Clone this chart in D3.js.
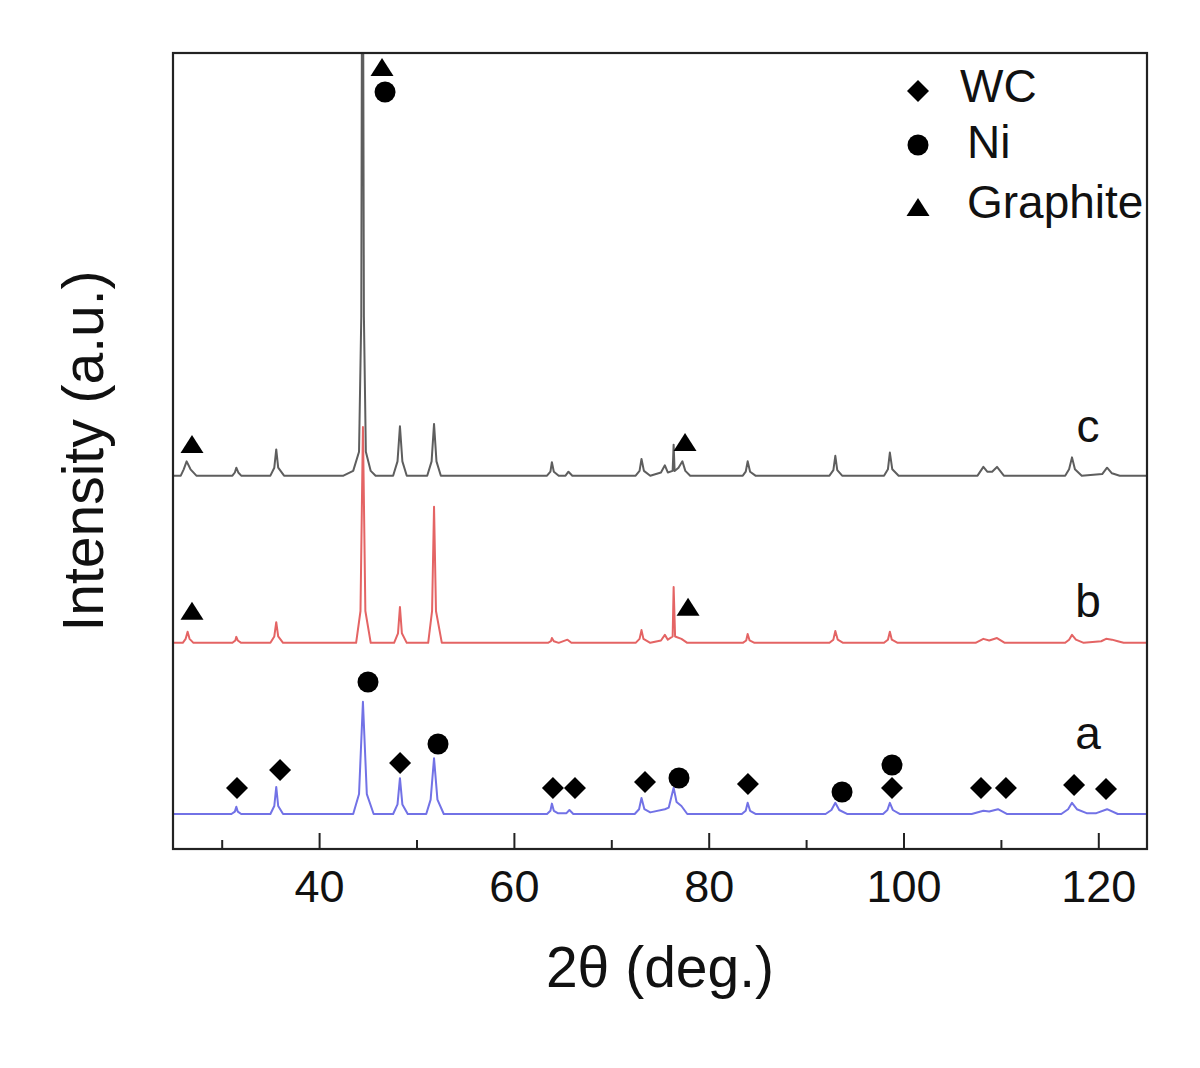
<!DOCTYPE html>
<html>
<head>
<meta charset="utf-8">
<script src="https://cdn.jsdelivr.net/npm/d3@7"></script>
<style>
  html, body { margin: 0; padding: 0; background: #fff; }
  svg { display: block; font-family: "Liberation Sans", Arial, sans-serif; }
</style>
</head>
<body>
<svg id="chart" width="1200" height="1068"></svg>
<script>
// ---------------- DATA ----------------
const xDomain = [25, 125];
const yDomain = [0, 100];
const majorTicks = [40, 60, 80, 100, 120];
const minorTicks = [30, 50, 70, 90, 110];

const seriesNames = ["a", "b", "c"];
const seriesColors = ["#7272e6", "#e46464", "#5e5e5e"];
const seriesOffsets = [4.4, 25.9, 46.9];

// pattern a (blue): [2θ, intensity]
const patternA = [
  [25,0],
  [31.0,0],[31.35,0.3],[31.5,0.9],[31.65,0.3],[32.0,0],
  [35.0,0],[35.4,1.0],[35.6,3.4],[35.8,1.0],[36.3,0],
  [43.5,0],[44.1,2.5],[44.5,14.1],[44.9,2.5],[45.6,0],
  [47.6,0],[48.05,1.2],[48.3,4.5],[48.55,1.2],[49.1,0],
  [51.0,0],[51.45,1.8],[51.8,7.0],[52.15,1.8],[52.8,0],
  [63.4,0],[63.75,0.4],[63.9,1.3],[64.1,0.4],[64.5,0.1],[65.4,0.1],[65.7,0.5],[66.1,0],
  [72.4,0],[72.85,0.6],[73.1,2.0],[73.4,0.6],[74.0,0.2],[75.5,0.6],[75.9,0.8],[76.4,3.3],[76.7,1.5],[77.2,1.0],[77.8,0],
  [83.4,0],[83.8,0.4],[84.0,1.4],[84.25,0.4],[84.8,0],
  [92.0,0],[92.6,0.5],[93.0,1.4],[93.4,0.5],[94.2,0],
  [97.9,0],[98.35,0.5],[98.6,1.4],[98.9,0.5],[99.6,0],
  [107.0,0],[108.2,0.4],[108.8,0.3],[109.7,0.6],[110.6,0],
  [116.2,0],[116.9,0.6],[117.3,1.4],[117.8,0.6],[118.8,0.1],[119.8,0.1],[120.9,0.6],[122.0,0],
  [125,0]
];

// pattern b (red)
const patternB = [
  [25,0],[26.0,0],[26.3,0.5],[26.5,1.4],[26.7,0.5],[27.1,0],
  [31.1,0],[31.4,0.3],[31.5,0.75],[31.65,0.3],[32.0,0],
  [35.0,0],[35.4,0.8],[35.6,2.6],[35.8,0.8],[36.3,0],
  [43.8,0],[44.25,4],[44.5,27.1],[44.75,4],[45.3,0],
  [47.7,0],[48.1,1.2],[48.3,4.5],[48.5,1.2],[49.0,0],
  [51.2,0],[51.6,4],[51.8,17.1],[52.0,4],[52.6,0],
  [63.5,0],[63.8,0.2],[63.9,0.6],[64.1,0.2],[64.6,0],[65.5,0.4],[65.9,0],
  [72.5,0],[72.9,0.5],[73.1,1.6],[73.3,0.5],[74.0,0],[75.1,0.3],[75.5,1.0],[75.8,0.4],[76.3,0.8],[76.4,7.0],[76.55,0.8],[77.2,0.5],[77.8,0],
  [83.5,0],[83.85,0.3],[84.0,1.1],[84.2,0.3],[84.7,0],
  [92.4,0],[92.8,0.4],[93.0,1.5],[93.25,0.4],[93.8,0],
  [98.0,0],[98.4,0.4],[98.6,1.4],[98.8,0.4],[99.4,0],
  [107.4,0],[108.2,0.5],[108.8,0.3],[109.6,0.6],[110.4,0],
  [116.6,0],[117.0,0.4],[117.3,1.0],[117.7,0.4],[118.5,0],[120.3,0.2],[120.8,0.5],[121.4,0.4],[122,0.2],[122.6,0],
  [125,0]
];

// pattern c (gray)
const patternC = [
  [25,0],[25.8,0],[26.1,0.8],[26.4,1.8],[26.8,0.8],[27.4,0],
  [31.1,0],[31.35,0.4],[31.5,1.0],[31.7,0.4],[32.0,0],
  [35.0,0],[35.4,1.0],[35.6,3.3],[35.8,1.0],[36.4,0],
  [42.5,0],[43.5,0.6],[44.1,3],[44.33,20],[44.4,60],[44.52,60],[44.6,20],[44.8,3],[45.3,0.6],[45.8,0],
  [47.6,0],[48.05,1.8],[48.3,6.2],[48.55,1.8],[49.0,0],
  [51.1,0],[51.55,1.8],[51.8,6.5],[52.05,1.8],[52.5,0],
  [63.4,0],[63.75,0.5],[63.9,1.7],[64.1,0.5],[64.6,0],[65.3,0],[65.6,0.5],[66.0,0],
  [72.5,0],[72.9,0.6],[73.1,2.1],[73.35,0.6],[74.0,0],[75.1,0.4],[75.5,1.3],[75.8,0.4],[76.3,0.6],[76.4,3.9],[76.5,0.6],[76.9,1.0],[77.3,1.8],[77.6,0.6],[78.1,0],
  [83.5,0],[83.8,0.5],[84.0,1.8],[84.25,0.5],[84.8,0],
  [92.4,0],[92.8,0.7],[93.0,2.5],[93.2,0.7],[93.7,0],
  [98.0,0],[98.4,0.8],[98.6,2.9],[98.85,0.8],[99.5,0],
  [107.6,0],[108.2,1.1],[108.6,0.5],[109.1,0.5],[109.6,1.1],[110.3,0],
  [116.6,0],[117.0,0.8],[117.3,2.3],[117.6,0.8],[118.3,0],[120.4,0.2],[120.9,1.0],[121.4,0.3],[122.2,0],
  [125,0]
];

// phase markers: [2θ, height, phase]
const markerPos = [
  [46.46, 98.1, "Graphite"], [46.77, 95.1, "Ni"],
  [26.95, 50.75, "Graphite"], [77.57, 51.0, "Graphite"],
  [26.95, 29.8, "Graphite"], [77.88, 30.3, "Graphite"],
  [31.57, 7.66, "WC"], [35.99, 9.92, "WC"], [45.02, 20.98, "Ni"],
  [48.31, 10.8, "WC"], [52.21, 13.19, "Ni"], [64.01, 7.66, "WC"],
  [66.27, 7.66, "WC"], [73.46, 8.42, "WC"], [76.95, 8.92, "Ni"],
  [84.03, 8.17, "WC"], [93.69, 7.16, "Ni"], [98.82, 10.55, "Ni"],
  [98.82, 7.66, "WC"], [107.96, 7.66, "WC"], [110.52, 7.66, "WC"],
  [117.51, 8.04, "WC"], [120.79, 7.54, "WC"]
];

const legendLabels = ["WC", "Ni", "Graphite"];
const xLabel = "2\u03B8 (deg.)";
const yLabel = "Intensity (a.u.)";

// ---------------- DRAW ----------------
const svg = d3.select("#chart");
const L = 173, R = 1147, T = 53, B = 849;
const x = d3.scaleLinear(xDomain, [L, R]);
const y = d3.scaleLinear(yDomain, [B, T]);

svg.append("defs").append("clipPath").attr("id", "plotclip")
  .append("rect").attr("x", L).attr("y", T).attr("width", R - L).attr("height", B - T);

const patterns = [patternA, patternB, patternC];
const line = d3.line().x(d => x(d[0])).y(d => y(d[1]));

const plot = svg.append("g").attr("clip-path", "url(#plotclip)");
patterns.forEach((p, i) => {
  plot.append("path")
    .datum(p.map(d => [d[0], d[1] + seriesOffsets[i]]))
    .attr("d", line)
    .attr("fill", "none")
    .attr("stroke", seriesColors[i])
    .attr("stroke-width", 2)
    .attr("stroke-linejoin", "round");
});

// symbol shapes
function shapePath(type) {
  if (type === "WC") return "M0,-11L11,0L0,11L-11,0Z";
  if (type === "Ni") return d3.symbol(d3.symbolCircle, Math.PI * 10.5 * 10.5)();
  return "M0,-10L11.5,8L-11.5,8Z";
}

svg.append("g").selectAll("path.mk").data(markerPos).join("path")
  .attr("class", "mk")
  .attr("transform", d => `translate(${x(d[0])},${y(d[1])})`)
  .attr("d", d => shapePath(d[2]))
  .attr("fill", "#000");

// series labels
const labelY = [749, 617, 442];
seriesNames.forEach((n, i) => {
  svg.append("text").attr("x", 1088).attr("y", labelY[i])
    .attr("text-anchor", "middle").attr("font-size", 46).attr("fill", "#111").text(n);
});

// frame
svg.append("rect").attr("x", L).attr("y", T).attr("width", R - L).attr("height", B - T)
  .attr("fill", "none").attr("stroke", "#222").attr("stroke-width", 2.2);

// axes
const ax = svg.append("g").attr("transform", `translate(0,${B})`)
  .call(d3.axisBottom(x).tickValues(majorTicks).tickSize(-16).tickPadding(21).tickFormat(d3.format("d")));
ax.select(".domain").remove();
ax.selectAll("line").attr("stroke", "#222").attr("stroke-width", 2);
ax.selectAll("text").attr("font-size", 45).attr("fill", "#111")
  .attr("font-family", "Liberation Sans, Arial, sans-serif");

const axm = svg.append("g").attr("transform", `translate(0,${B})`)
  .call(d3.axisBottom(x).tickValues(minorTicks).tickSize(-9).tickFormat(""));
axm.select(".domain").remove();
axm.selectAll("line").attr("stroke", "#222").attr("stroke-width", 2);

// axis titles
svg.append("text").attr("x", 660).attr("y", 987).attr("text-anchor", "middle")
  .attr("font-size", 57).attr("fill", "#111").text(xLabel);
svg.append("text").attr("transform", "translate(103,451) rotate(-90)")
  .attr("text-anchor", "middle").attr("font-size", 57).attr("fill", "#111").text(yLabel);

// legend
const legY = [91, 145, 208];
const legTextX = [960, 967, 967];
const legTextY = [102, 158, 218];
legendLabels.forEach((lab, i) => {
  svg.append("path").attr("transform", `translate(918,${legY[i]})`)
    .attr("d", shapePath(lab)).attr("fill", "#000");
  svg.append("text").attr("x", legTextX[i]).attr("y", legTextY[i])
    .attr("font-size", 46).attr("fill", "#111").text(lab);
});
</script>
</body>
</html>
